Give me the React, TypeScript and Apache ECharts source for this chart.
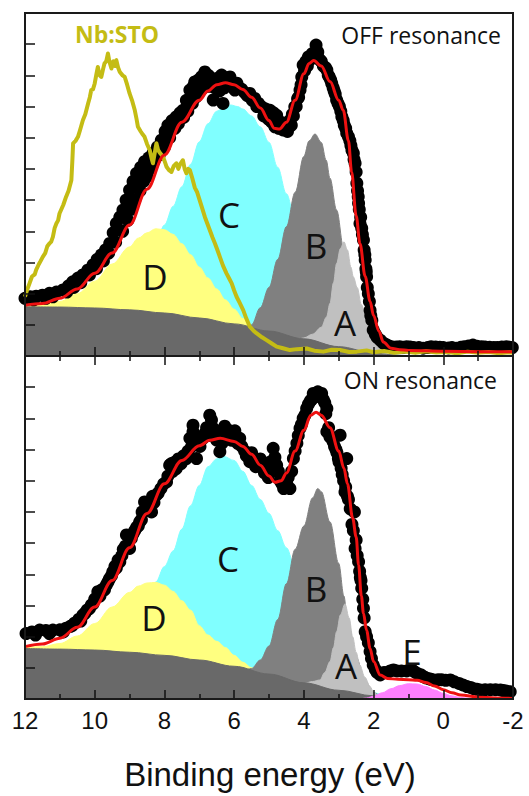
import React, { useEffect, useRef } from 'react';
import * as echarts from 'echarts';

// ---------- OFF resonance (top panel) ----------
const offBg: number[][] = [[12,1.58],[11,1.57],[10,1.54],[9,1.48],[8,1.38],[7,1.22],[6,1.03],[5,0.80],[4,0.55],[3,0.30],[2,0.10],[1.5,0.04],[1,0.01],[0,0],[-2,0]];
const offD: number[][] = [[12,1.60],[11.5,1.65],[11,1.75],[10.5,2.0],[10,2.4],[9.5,2.95],[9,3.5],[8.75,3.78],[8.5,3.95],[8.25,4.08],[8,4.05],[7.75,3.9],[7.5,3.6],[7.25,3.25],[7,2.85],[6.75,2.5],[6.5,2.15],[6.25,1.8],[6,1.5],[5.75,1.2],[5.5,0.95],[5.25,0.85],[5,0.75]];
const offC: number[][] = [[12,1.5],[10.5,1.45],[10,1.5],[9.5,1.75],[9,2.3],[8.5,3.1],[8.25,3.6],[8,4.2],[7.75,4.8],[7.5,5.43],[7.25,6.15],[7,6.87],[6.75,7.45],[6.5,7.85],[6.25,8.02],[6.1,8.05],[5.9,8.0],[5.75,7.92],[5.5,7.7],[5.25,7.35],[5,6.85],[4.75,6.05],[4.5,5.2],[4.25,4.4],[4,3.5],[3.75,2.6],[3.5,1.9],[3,0.9],[2.5,0.4],[2,0.16],[1.75,0.08],[1.5,0.03],[1,0]];
const offB: number[][] = [[6.25,0.8],[6,0.85],[5.75,0.9],[5.5,1.0],[5.25,1.55],[5,2.2],[4.75,3.1],[4.5,4.15],[4.25,5.25],[4,6.4],[3.85,6.9],[3.68,7.12],[3.5,6.85],[3.36,6.28],[3.25,5.7],[3.06,4.68],[2.85,3.4],[2.75,2.85],[2.5,1.7],[2.25,0.9],[2,0.4],[1.75,0.1],[1.5,0.03],[1.25,0]];
const offA: number[][] = [[4.5,0.45],[4.25,0.5],[4,0.58],[3.75,0.7],[3.5,0.92],[3.35,1.25],[3.25,1.69],[3.15,2.35],[3.06,2.97],[2.95,3.45],[2.85,3.66],[2.75,3.4],[2.65,2.85],[2.58,2.54],[2.47,2.2],[2.35,1.65],[2.19,1.15],[2.1,0.8],[2.0,0.5],[1.85,0.25],[1.72,0.1],[1.5,0.02],[1.25,0]];
const offFit: number[][] = [[12,1.63],[11.5,1.68],[11,1.85],[10.5,2.15],[10,2.65],[9.5,3.30],[9,4.20],[8.5,5.35],[8,6.45],[7.5,7.5],[7,8.2],[6.75,8.5],[6.5,8.7],[6.25,8.76],[6,8.7],[5.75,8.55],[5.5,8.3],[5.25,7.95],[5,7.55],[4.85,7.3],[4.7,7.28],[4.5,7.5],[4.25,8.2],[4,9.05],[3.85,9.38],[3.72,9.48],[3.5,9.3],[3.25,8.8],[3,8.2],[2.87,7.88],[2.72,6.9],[2.63,5.9],[2.5,4.5],[2.39,3.6],[2.24,2.55],[2.1,1.75],[2.0,1.3],[1.85,0.8],[1.72,0.45],[1.5,0.25],[1.25,0.2],[1,0.18],[0,0.15],[-1,0.14],[-2,0.14]];
const offDots: number[][] = [[12.0,1.85],[11.85,1.9],[11.68,1.92],[11.5,1.95],[11.3,2.01],[11.1,2.05],[10.91,2.12],[10.75,2.25],[10.63,2.38],[10.48,2.5],[10.34,2.60],[10.2,2.75],[10.05,2.92],[9.93,3.1],[9.81,3.24],[9.69,3.4],[9.57,3.61],[9.47,3.95],[9.38,4.25],[9.28,4.45],[9.19,4.68],[9.1,5.0],[9.0,5.32],[8.9,5.6],[8.8,5.86],[8.68,6.05],[8.57,6.23],[8.45,6.35],[8.33,6.5],[8.2,6.7],[8.09,6.92],[7.98,7.2],[7.9,7.4],[7.78,7.55],[7.66,7.67],[7.55,7.8],[7.47,7.88],[7.37,8.2],[7.27,8.53],[7.18,8.63],[7.13,8.79],[7.03,8.85],[6.94,8.95],[6.84,9.11],[6.74,9.0],[6.65,8.79],[6.6,8.21],[6.5,8.9],[6.42,8.5],[6.36,9.01],[6.32,8.10],[6.24,8.85],[6.12,8.95],[6.05,8.7],[5.98,8.53],[5.85,8.6],[5.7,8.45],[5.55,8.42],[5.41,8.26],[5.3,8.1],[5.21,7.99],[5.09,7.92],[4.97,7.88],[4.87,7.8],[4.78,7.72],[4.66,7.5],[4.54,7.35],[4.47,7.2],[4.40,7.56],[4.33,7.75],[4.26,7.99],[4.18,8.25],[4.11,8.53],[4.06,8.95],[4.02,9.33],[3.94,9.45],[3.87,9.59],[3.76,9.7],[3.65,9.97],[3.6,9.75],[3.54,9.49],[3.44,9.3],[3.34,9.17],[3.27,8.95],[3.20,8.74],[3.13,8.5],[3.06,8.21],[2.98,8.0],[2.91,7.67],[2.84,7.4],[2.77,7.14],[2.72,7.03],[2.65,6.75],[2.58,6.50],[2.53,6.18],[2.48,5.54],[2.44,5.11],[2.41,4.7],[2.39,4.25],[2.32,3.9],[2.29,3.72],[2.24,3.08],[2.22,2.8],[2.20,2.54],[2.18,2.2],[2.12,1.75],[2.10,1.47],[2.05,1.15],[2.01,0.83],[1.9,0.6],[1.72,0.41],[1.58,0.33],[1.43,0.28],[1.25,0.3],[1.05,0.30],[0.85,0.27],[0.58,0.25],[0.35,0.3],[0.10,0.28],[-0.15,0.26],[-0.37,0.25],[-0.6,0.3],[-0.85,0.35],[-1.1,0.3],[-1.33,0.28],[-1.55,0.27],[-1.81,0.30],[-1.98,0.27]];
const offDots2: number[][] = [[11.75,1.8],[11.4,1.85],[11.2,1.9],[10.8,2.05],[10.6,2.2],[10.4,2.35],[10.15,2.6],[9.95,2.8],[9.75,3.05],[9.6,3.3],[9.4,3.65],[9.2,4.0],[9.05,4.35],[8.95,4.7],[8.85,5.0],[8.7,5.3],[8.6,5.6],[8.5,5.75],[8.4,6.0],[8.3,6.25],[8.15,6.45],[8.0,6.7],[7.85,7.0],[7.7,7.3],[7.6,7.45],[7.45,7.65],[7.33,7.85],[7.2,8.1],[7.1,8.3],[6.98,8.5],[6.88,8.6],[6.78,8.75],[6.7,8.65],[6.55,8.6],[6.45,8.8],[6.28,8.6],[6.18,8.7],[5.92,8.75],[5.78,8.55],[5.62,8.35],[5.48,8.2],[5.35,8.0],[5.15,7.7],[5.02,7.6],[4.92,7.5],[4.83,7.35],[4.72,7.3],[4.6,7.25],[4.5,7.45],[4.36,7.4],[4.3,7.7],[4.22,8.0],[4.15,8.3],[4.08,8.7],[3.98,9.15],[3.9,9.3],[3.82,9.5],[3.7,9.65],[3.58,9.55],[3.5,9.45],[3.38,9.25],[3.3,9.0],[3.23,8.85],[3.16,8.6],[3.1,8.4],[3.02,8.1],[2.94,7.85],[2.87,7.55],[2.8,7.3],[2.68,6.9],[2.62,6.6],[2.56,6.3],[2.5,5.9],[2.46,5.3],[2.43,4.9],[2.37,4.45],[2.34,4.1],[2.27,3.4],[2.25,3.25],[2.21,2.7],[2.15,2.0],[2.08,1.3],[1.95,0.7],[1.8,0.5],[1.65,0.37],[1.5,0.3],[1.35,0.29],[1.15,0.28],[0.95,0.29],[0.7,0.27],[0.45,0.27],[0.22,0.29],[0.0,0.27],[-0.25,0.27],[-0.5,0.28],[-0.72,0.32],[-0.97,0.31],[-1.2,0.29],[-1.45,0.27],[-1.68,0.29],[-1.9,0.28]];
const nbSto: number[][] = [[12.0,1.90],[11.93,2.15],[11.87,2.33],[11.8,2.55],[11.72,2.62],[11.68,2.76],[11.6,2.95],[11.55,3.05],[11.49,3.18],[11.42,3.30],[11.36,3.52],[11.30,3.61],[11.25,3.66],[11.20,3.82],[11.15,4.1],[11.10,4.25],[11.05,4.35],[11.01,4.57],[10.95,4.72],[10.9,4.85],[10.82,5.11],[10.75,5.3],[10.67,5.64],[10.64,6.3],[10.62,6.82],[10.55,6.9],[10.48,7.03],[10.42,7.25],[10.34,7.56],[10.27,7.75],[10.19,8.10],[10.14,8.3],[10.10,8.53],[10.05,8.55],[10.00,8.74],[9.95,9.05],[9.91,9.27],[9.86,9.0],[9.81,8.95],[9.76,9.2],[9.72,9.38],[9.67,9.45],[9.62,9.70],[9.58,9.45],[9.52,9.22],[9.47,9.45],[9.42,9.3],[9.38,9.49],[9.33,9.25],[9.28,9.11],[9.2,9.0],[9.14,8.95],[9.07,8.7],[9.0,8.42],[8.93,8.2],[8.85,7.88],[8.8,7.6],[8.76,7.35],[8.68,7.2],[8.62,7.1],[8.57,7.03],[8.5,6.8],[8.42,6.60],[8.36,6.3],[8.33,6.18],[8.28,6.5],[8.23,6.82],[8.18,6.6],[8.12,6.5],[8.04,6.39],[7.98,6.2],[7.94,6.07],[7.87,5.96],[7.80,5.9],[7.73,6.1],[7.66,6.18],[7.6,6.0],[7.55,6.15],[7.47,6.28],[7.42,6.0],[7.37,5.86],[7.32,6.0],[7.27,5.96],[7.2,5.7],[7.13,5.4],[7.06,5.25],[6.99,5.0],[6.92,4.75],[6.84,4.46],[6.77,4.25],[6.70,4.04],[6.62,3.8],[6.55,3.61],[6.48,3.4],[6.41,3.18],[6.32,2.9],[6.22,2.65],[6.15,2.5],[6.07,2.33],[6.0,2.1],[5.93,1.90],[5.84,1.7],[5.74,1.47],[5.65,1.2],[5.55,0.94],[5.45,0.82],[5.36,0.73],[5.2,0.6],[5.07,0.51],[4.92,0.4],[4.78,0.30],[4.6,0.25],[4.40,0.19],[4.2,0.22],[3.92,0.24],[3.7,0.17],[3.44,0.14],[3.2,0.2],[2.96,0.19],[2.7,0.13],[2.48,0.14],[2.2,0.18],[2.0,0.12],[1.7,0.16],[1.4,0.1],[1.1,0.14],[0.8,0.1],[0.5,0.15],[0.2,0.11],[-0.1,0.13],[-0.4,0.09],[-0.7,0.14],[-1.0,0.1],[-1.3,0.13],[-1.6,0.09],[-1.9,0.12],[-2.0,0.1]];

// ---------- ON resonance (bottom panel) ----------
const onBg: number[][] = [[12,1.62],[11,1.60],[10,1.57],[9,1.50],[8,1.40],[7,1.25],[6,1.05],[5,0.80],[4,0.52],[3,0.28],[2,0.10],[1.5,0.04],[1,0.01],[0,0],[-2,0]];
const onD: number[][] = [[12,1.66],[11.5,1.68],[11,1.78],[10.5,2.02],[10,2.42],[9.5,2.95],[9,3.42],[8.75,3.62],[8.5,3.72],[8.25,3.74],[8,3.65],[7.75,3.45],[7.5,3.15],[7.25,2.85],[7,2.35],[6.75,2.05],[6.5,1.85],[6.25,1.65],[6,1.4],[5.75,1.18],[5.5,1.0],[5.25,0.88],[5,0.75]];
const onC: number[][] = [[12,1.5],[10,1.45],[9.5,1.6],[9,2.0],[8.75,2.6],[8.5,3.2],[8.25,3.75],[8,4.25],[7.75,4.75],[7.5,5.45],[7.25,6.2],[7,6.85],[6.75,7.45],[6.5,7.7],[6.3,7.78],[6,7.65],[5.75,7.3],[5.5,6.85],[5.25,6.4],[5,5.95],[4.75,5.4],[4.5,4.85],[4.25,4.2],[4,3.5],[3.5,2.3],[3,1.2],[2.5,0.5],[2,0.2],[1.5,0.05],[1,0]];
const onB: number[][] = [[6,0.85],[5.75,0.9],[5.5,0.98],[5.25,1.25],[5,1.7],[4.75,2.55],[4.5,3.7],[4.25,4.8],[4,5.55],[3.75,6.45],[3.6,6.75],[3.5,6.65],[3.25,5.68],[3,4.35],[2.85,3.3],[2.75,2.55],[2.5,1.35],[2.25,0.6],[2,0.2],[1.75,0.08],[1.5,0.02],[1.25,0]];
const onA: number[][] = [[4.5,0.4],[4.25,0.45],[4,0.5],[3.75,0.56],[3.54,0.61],[3.4,0.85],[3.25,1.2],[3.15,1.65],[3.06,2.16],[2.95,2.7],[2.82,3.05],[2.7,2.6],[2.6,2.0],[2.5,1.5],[2.4,1.1],[2.25,0.7],[2.1,0.4],[2.0,0.22],[1.85,0.1],[1.7,0.04],[1.5,0]];
const onE: number[][] = [[2.4,0],[2.2,0.03],[2.0,0.09],[1.75,0.2],[1.5,0.33],[1.25,0.43],[1.0,0.49],[0.75,0.48],[0.5,0.40],[0.25,0.29],[0,0.18],[-0.25,0.1],[-0.5,0.05],[-0.75,0.02],[-1,0]];
const onFit: number[][] = [[12,1.68],[11.5,1.76],[11,1.95],[10.5,2.30],[10,2.95],[9.5,3.80],[9,4.85],[8.5,5.95],[8,6.90],[7.5,7.65],[7,8.12],[6.7,8.3],[6.4,8.36],[6,8.26],[5.75,8.1],[5.5,7.85],[5.25,7.5],[5,7.15],[4.83,6.95],[4.65,7.0],[4.5,7.25],[4.25,7.95],[4,8.62],[3.8,9.1],[3.65,9.2],[3.5,9.1],[3.25,8.7],[3,7.95],[2.85,7.4],[2.75,6.9],[2.6,5.8],[2.5,5.2],[2.43,4.3],[2.35,3.3],[2.29,2.75],[2.2,2.2],[2.1,1.62],[2,1.2],[1.81,0.77],[1.6,0.66],[1.3,0.63],[1,0.62],[0.75,0.6],[0.5,0.53],[0.25,0.42],[0,0.3],[-0.25,0.2],[-0.5,0.13],[-1,0.06],[-1.5,0.03],[-2,0.02]];
const onDots: number[][] = [[11.97,2.10],[11.8,2.15],[11.58,2.21],[11.4,2.2],[11.20,2.21],[11.0,2.22],[10.82,2.27],[10.7,2.33],[10.58,2.43],[10.46,2.55],[10.34,2.69],[10.22,2.85],[10.10,3.01],[10.0,3.2],[9.91,3.44],[9.8,3.5],[9.67,3.65],[9.58,3.85],[9.48,4.08],[9.38,4.2],[9.28,4.40],[9.18,4.8],[9.09,5.26],[9.0,4.83],[8.9,5.3],[8.8,5.5],[8.71,5.68],[8.64,6.0],[8.57,6.32],[8.47,6.1],[8.37,6.0],[8.3,6.3],[8.23,6.54],[8.1,6.75],[7.94,6.96],[7.85,7.50],[7.76,7.3],[7.66,7.39],[7.52,7.55],[7.37,7.71],[7.27,8.36],[7.18,8.78],[7.18,8.57],[7.08,7.71],[6.98,8.1],[6.89,8.36],[6.79,8.7],[6.70,9.10],[6.60,8.68],[6.5,8.3],[6.41,7.93],[6.3,8.4],[6.22,8.57],[6.12,8.6],[6.03,8.46],[5.94,8.3],[5.84,8.36],[5.7,7.95],[5.55,7.61],[5.43,7.7],[5.31,7.61],[5.18,7.45],[5.07,7.29],[4.97,7.6],[4.88,8.04],[4.78,7.50],[4.68,7.0],[4.58,6.75],[4.49,6.9],[4.40,6.75],[4.30,7.71],[4.2,8.2],[4.11,8.68],[4.02,9.0],[3.92,9.32],[3.82,9.55],[3.73,9.80],[3.6,9.85],[3.49,9.80],[3.40,9.5],[3.34,9.32],[3.34,8.57],[3.25,8.4],[3.16,8.25],[3.08,8.0],[3.01,7.71],[2.96,8.46],[2.9,7.2],[2.82,6.64],[2.77,7.71],[2.72,6.4],[2.62,5.6],[2.55,6.0],[2.53,4.83],[2.43,4.40],[2.36,3.8],[2.34,3.55],[2.29,2.91],[2.24,2.16],[2.15,1.8],[2.10,1.52],[2.01,1.09],[1.9,0.85],[1.81,0.77],[1.6,0.85],[1.43,0.93],[1.2,0.9],[0.90,0.93],[0.75,0.82],[0.57,0.72],[0.42,0.65],[0.28,0.61],[0.05,0.62],[-0.20,0.61],[-0.45,0.5],[-0.68,0.40],[-0.87,0.33],[-1.06,0.29],[-1.35,0.3],[-1.64,0.29],[-1.8,0.26],[-1.92,0.23]];
const onDots2: number[][] = [[11.7,2.05],[11.3,2.1],[10.9,2.15],[10.65,2.35],[10.4,2.5],[10.28,2.75],[10.15,2.9],[10.05,3.05],[9.85,3.3],[9.72,3.5],[9.62,3.75],[9.52,3.95],[9.42,4.25],[9.33,4.45],[9.22,4.6],[9.12,4.9],[8.95,5.15],[8.85,5.4],[8.75,5.55],[8.66,5.75],[8.52,6.05],[8.42,6.3],[8.34,6.5],[8.18,6.6],[8.02,6.9],[7.9,7.15],[7.8,7.55],[7.7,7.6],[7.6,7.7],[7.45,7.8],[7.32,7.95],[7.22,8.1],[7.12,8.25],[7.0,8.35],[6.85,8.5],[6.75,8.45],[6.65,8.95],[6.55,8.6],[6.45,8.55],[6.35,8.2],[6.27,8.75],[6.18,8.4],[6.08,8.3],[5.98,8.6],[5.9,8.2],[5.78,8.1],[5.65,7.8],[5.5,7.9],[5.38,7.45],[5.25,7.7],[5.13,7.25],[5.02,7.1],[4.92,7.3],[4.83,7.75],[4.73,7.3],[4.63,6.9],[4.53,7.0],[4.45,7.1],[4.35,7.3],[4.25,7.95],[4.16,8.45],[4.07,8.8],[3.97,9.1],[3.87,9.45],[3.78,9.6],[3.66,9.7],[3.55,9.75],[3.44,9.6],[3.37,9.15],[3.29,8.7],[3.2,8.4],[3.12,8.1],[3.05,7.9],[2.99,7.6],[2.93,7.4],[2.86,7.0],[2.8,6.8],[2.75,6.5],[2.67,6.1],[2.58,5.4],[2.5,5.1],[2.47,4.6],[2.4,4.1],[2.38,3.9],[2.31,3.2],[2.27,2.6],[2.2,2.0],[2.06,1.3],[1.95,0.95],[1.7,0.85],[1.52,0.9],[1.33,0.9],[1.05,0.9],[0.83,0.88],[0.65,0.78],[0.5,0.68],[0.35,0.63],[0.15,0.62],[-0.07,0.6],[-0.32,0.55],[-0.56,0.45],[-0.78,0.37],[-0.97,0.31],[-1.2,0.3],[-1.5,0.3],[-1.72,0.27]];

const axisTitle = 'Binding energy (eV)';

const asc = (d: number[][]) => d.slice().sort((a, b) => a[0] - b[0]);

const area = (data: number[][], color: string, xi: number, yi: number, z: number) => ({
  type: 'line', data: asc(data), xAxisIndex: xi, yAxisIndex: yi, z,
  smooth: 0.35, smoothMonotone: 'x', symbol: 'none', showSymbol: false, silent: true,
  lineStyle: { width: 1, color }, areaStyle: { color, opacity: 1 },
});
const line = (data: number[][], color: string, width: number, xi: number, yi: number, smooth: number | boolean, z: number) => ({
  type: 'line', data: asc(data), xAxisIndex: xi, yAxisIndex: yi, z,
  smooth, smoothMonotone: 'x', symbol: 'none', showSymbol: false, silent: true,
  lineStyle: { width, color, join: 'round' },
});
const dots = (data: number[][], xi: number, yi: number, z: number) => ({
  type: 'scatter', data, xAxisIndex: xi, yAxisIndex: yi, z, symbol: 'circle', symbolSize: 13,
  itemStyle: { color: '#000', opacity: 1 }, silent: true,
});

const tickStyle = { color: '#111', width: 1.5 };
const xAxisOf = (gridIndex: number, position: string, showTicks: boolean, showLabels: boolean) => ({
  type: 'value', gridIndex, position, min: -2, max: 12, interval: 2, inverse: true, z: 20,
  axisLine: { show: false, onZero: false }, splitLine: { show: false },
  axisTick: { show: showTicks, inside: true, length: 9, lineStyle: tickStyle },
  minorTick: { show: showTicks, splitNumber: 2, length: 5, lineStyle: tickStyle },
  axisLabel: { show: showLabels, fontSize: 24, fontFamily: '"Liberation Sans", Arial, sans-serif', color: '#111', margin: 9 },
});
const yAxisOf = (gridIndex: number) => ({
  type: 'value', gridIndex, position: 'left', min: 0, max: 11, interval: 1, z: 20,
  axisLine: { show: false, onZero: false }, splitLine: { show: false }, axisLabel: { show: false },
  axisTick: { show: true, inside: true, length: 10, lineStyle: tickStyle },
});

const COL = { C: '#80ffff', D: '#ffff80', B: '#808080', A: '#c0c0c0', bg: '#696969', E: '#ff80ff', fit: '#ee1111', nb: '#c4bc14' };
const SANS = '"Open Sans", "Noto Sans", sans-serif';

const letter = (t: string, x: number, y: number) => ({
  type: 'text', z: 50, silent: true,
  style: { text: t, x, y, textAlign: 'center', textVerticalAlign: 'middle', fill: '#111', fontSize: 35, fontFamily: SANS },
});

export default function App() {
  const ref = useRef<HTMLDivElement>(null);
  useEffect(() => {
    const chart = echarts.init(ref.current!, null, { renderer: 'svg' });
    const option: any = {
      animation: false,
      backgroundColor: '#fff',
      grid: [
        { left: 25, top: 13, width: 488, height: 343 },
        { left: 25, top: 356, width: 488, height: 343 },
      ],
      xAxis: [
        xAxisOf(0, 'bottom', true, false),
        xAxisOf(0, 'top', false, false),
        xAxisOf(1, 'bottom', true, true),
        xAxisOf(1, 'top', true, false),
      ],
      yAxis: [yAxisOf(0), yAxisOf(1)],
      series: [
        area(offC, COL.C, 0, 0, 2),
        area(offD, COL.D, 0, 0, 3),
        area(offB, COL.B, 0, 0, 4),
        area(offA, COL.A, 0, 0, 5),
        area(offBg, COL.bg, 0, 0, 6),
        dots(offDots, 0, 0, 8),
        dots(offDots2, 0, 0, 8),
        line(nbSto, COL.nb, 4, 0, 0, false, 9),
        line(offFit, COL.fit, 3, 0, 0, 0.35, 10),
        area(onC, COL.C, 2, 1, 2),
        area(onD, COL.D, 2, 1, 3),
        area(onB, COL.B, 2, 1, 4),
        area(onA, COL.A, 2, 1, 5),
        area(onBg, COL.bg, 2, 1, 6),
        area(onE, COL.E, 2, 1, 7),
        dots(onDots, 2, 1, 8),
        dots(onDots2, 2, 1, 8),
        line(onFit, COL.fit, 3, 2, 1, 0.35, 10),
      ],
      graphic: [
        { type: 'rect', z: 100, silent: true, shape: { x: 25, y: 13, width: 488, height: 343 }, style: { fill: 'none', stroke: '#1a1a1a', lineWidth: 2 } },
        { type: 'rect', z: 100, silent: true, shape: { x: 25, y: 356, width: 488, height: 343 }, style: { fill: 'none', stroke: '#1a1a1a', lineWidth: 2 } },
        { type: 'text', z: 50, silent: true, style: { text: 'Nb:STO', x: 117, y: 34, textAlign: 'center', textVerticalAlign: 'middle', fill: COL.nb, fontSize: 23, fontWeight: 'bold', fontFamily: SANS } },
        { type: 'text', z: 50, silent: true, style: { text: 'OFF resonance', x: 501, y: 35, textAlign: 'right', textVerticalAlign: 'middle', fill: '#111', fontSize: 23, fontFamily: SANS } },
        { type: 'text', z: 50, silent: true, style: { text: 'ON resonance', x: 497, y: 380, textAlign: 'right', textVerticalAlign: 'middle', fill: '#111', fontSize: 23, fontFamily: SANS } },
        letter('D', 155, 276), letter('C', 229, 214), letter('B', 316, 245), letter('A', 345, 322),
        letter('D', 154, 617), letter('C', 228, 558), letter('B', 316, 588), letter('A', 346, 665), letter('E', 412, 651),
        { type: 'text', z: 50, silent: true, style: { text: axisTitle, x: 270, y: 774, textAlign: 'center', textVerticalAlign: 'middle', fill: '#111', fontSize: 33, fontFamily: '"Liberation Sans", Arial, sans-serif' } },
      ],
    };
    chart.setOption(option);
    return () => chart.dispose();
  }, []);
  return <div ref={ref} style={{ position: 'fixed', left: 0, top: 0, width: 529, height: 796 }} />;
}
